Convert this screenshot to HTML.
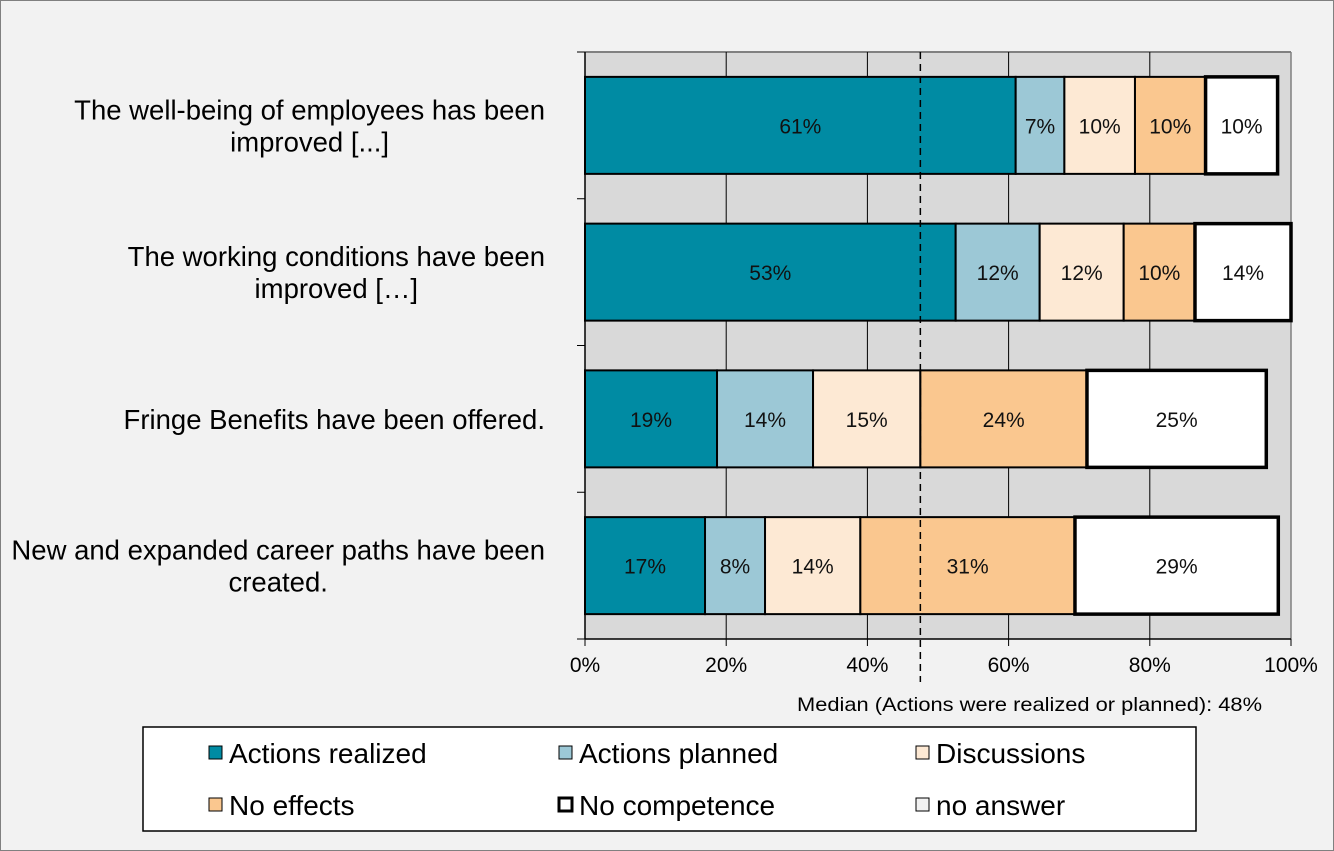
<!DOCTYPE html>
<html><head><meta charset="utf-8"><style>
html,body{margin:0;padding:0;background:#f2f2f2;}
svg{display:block;font-family:"Liberation Sans",Arial,sans-serif;}
</style></head><body>
<svg id="chart" width="1334" height="851">
<rect x="0.5" y="0.5" width="1333" height="850" fill="#f2f2f2" stroke="#808080"/>
<g id="plot"></g>
</svg>
<script>
const categories = ["The well-being of employees has been|improved [...]","The working conditions have been|improved […]","Fringe Benefits have been offered.","New and expanded career paths have been|created."];
const seriesNames = ["Actions realized","Actions planned","Discussions","No effects","No competence","no answer"];
const actionsRealized = [61.0, 52.5, 18.7, 17.0];
const actionsPlanned = [6.9, 11.9, 13.6, 8.5];
const discussions = [10.0, 11.9, 15.2, 13.5];
const noEffects = [10.0, 10.1, 23.6, 30.4];
const noCompetence = [10.2, 13.6, 25.4, 28.8];
const printedLabels = [["61%","7%","10%","10%","10%"],["53%","12%","12%","10%","14%"],["19%","14%","15%","24%","25%"],["17%","8%","14%","31%","29%"]];
const xTicks = [0,20,40,60,80,100];
const median = 47.5;
const medianLabel = "Median (Actions were realized or planned): 48%";

const NS="http://www.w3.org/2000/svg";
const g=document.getElementById('plot');
const X0=585,X1=1291,Y0=52,Y1=639;
const xs=v=>X0+(X1-X0)*v/100;
const band=(Y1-Y0)/categories.length;
const yc=i=>Y0+band*(i+0.5);
const BH=97;
function mk(t,a,p){const e=document.createElementNS(NS,t);for(const k in a)e.setAttribute(k,a[k]);(p||g).appendChild(e);return e;}
const fills=["#008ba3","#9cc8d6","#fde9d4","#fac78f","#ffffff","#f2f2f2"];
let bg=mk('rect',{x:X0,y:Y0,width:X1-X0,height:Y1-Y0,fill:'#d9d9d9'});


mk('line',{x1:X0,y1:Y0,x2:X1,y2:Y0,stroke:'#808080','stroke-width':2});
mk('line',{x1:X1,y1:Y0,x2:X1,y2:Y1,stroke:'#808080','stroke-width':1.5});
xTicks.forEach(t=>{
  if(t>0&&t<100){let l=mk('line',{x1:xs(t),y1:Y0,x2:xs(t),y2:Y1,stroke:'#000','stroke-width':1});
  
  }
  mk('line',{x1:xs(t),y1:Y1,x2:xs(t),y2:Y1+7,stroke:'#000','stroke-width':1});
  let tx=mk('text',{x:xs(t),y:672,'font-size':21,'text-anchor':'middle',fill:'#000'});tx.textContent=t+'%';
  
  
});
mk('line',{x1:X0,y1:Y0,x2:X0,y2:Y1,stroke:'#000','stroke-width':1.5});
mk('line',{x1:X0,y1:Y1,x2:X1,y2:Y1,stroke:'#000','stroke-width':1.5});
for(let i=0;i<=categories.length;i++){mk('line',{x1:X0-8,y1:Y0+band*i,x2:X0,y2:Y0+band*i,stroke:'#000','stroke-width':1});}
const series=[actionsRealized,actionsPlanned,discussions,noEffects,noCompetence];
categories.forEach((c,i)=>{
  let acc=0;const y=yc(i)-BH/2;
  series.forEach((s,j)=>{
    const v=s[i];const x=xs(acc);const w=xs(acc+v)-x;
    const thick=j===4;
    let r=mk('rect',{x:x,y:y,width:w,height:BH,fill:fills[j],stroke:'#000','stroke-width':thick?3.5:2});
    
    
    let t=mk('text',{x:x+w/2,y:yc(i)+8,'font-size':21,'text-anchor':'middle',fill:'#111'});
    t.textContent=printedLabels[i][j];
    
    
    acc+=v;
  });
  const lines=c.split('|');
  const els=lines.map((ln,k)=>{
    let t=mk('text',{x:0,y:yc(i)+10+(k-(lines.length-1)/2)*32,'font-size':27.5,'text-anchor':'middle',fill:'#000'});
    t.textContent=ln;
    
    
    return t;
  });
  const maxW=Math.max(...els.map(e=>e.getComputedTextLength()));
  els.forEach(e=>e.setAttribute('x',545-maxW/2));
});
let ml=mk('line',{x1:xs(median),y1:Y0,x2:xs(median),y2:682,stroke:'#000','stroke-width':1.5,'stroke-dasharray':'7,5'});


let mt=mk('text',{x:797,y:711,'font-size':19.5,fill:'#000',textLength:465,lengthAdjust:'spacingAndGlyphs'});mt.textContent=medianLabel;


let lg=mk('rect',{x:143,y:727,width:1053,height:104,fill:'#fff',stroke:'#000','stroke-width':1.5});


const lx=[209,559,916],ly=[753,805];
seriesNames.forEach((n,k)=>{
  const cx=lx[k%3],cy=ly[Math.floor(k/3)];
  mk('rect',{x:cx,y:cy-7,width:13,height:13,fill:fills[k],stroke:'#000','stroke-width':k===4?3:1});
  let t=mk('text',{x:cx+20,y:cy+10,'font-size':28,fill:'#000'});t.textContent=n;
  
  
});
</script>
</body></html>
